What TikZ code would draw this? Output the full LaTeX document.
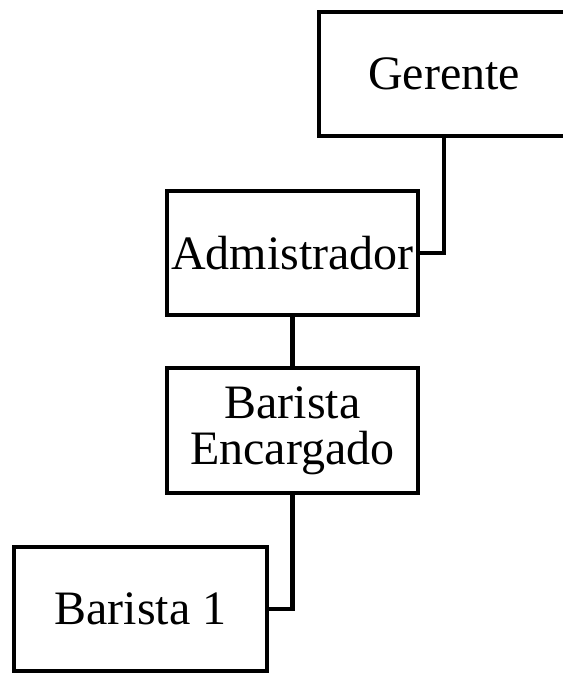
\documentclass[tikz,border=0pt]{standalone}
\usepackage{fontspec}
\setmainfont{Liberation Serif}
\begin{document}
\begin{tikzpicture}[x=1pt,y=1pt,
        cargo/.style={draw,line width=4.5pt,minimum width=251pt,minimum height=124pt,inner sep=0pt,align=center,font=\fontsize{48}{46}\selectfont},
        enlace/.style={line width=4.5pt}]
        \useasboundingbox (0,0) rectangle (563,673);
        \clip (0,0) rectangle (563,673);
        \node[cargo,minimum width=250pt] (ger) at (444,599) {Gerente};
        \node[cargo] (adm) at (292.5,420) {Admistrador};
        \node[cargo,minimum height=125pt] (enc) at (292.5,242.5) {Barista\\Encargado};
        \node[cargo,minimum width=253pt] (b1) at (140.5,64) {Barista 1};
        \draw[enlace] (ger.south) |- (adm.east);
        \draw[enlace] (adm.south) -- (enc.north);
        \draw[enlace] (enc.south) |- (b1.east);
    \end{tikzpicture}
\end{document}
